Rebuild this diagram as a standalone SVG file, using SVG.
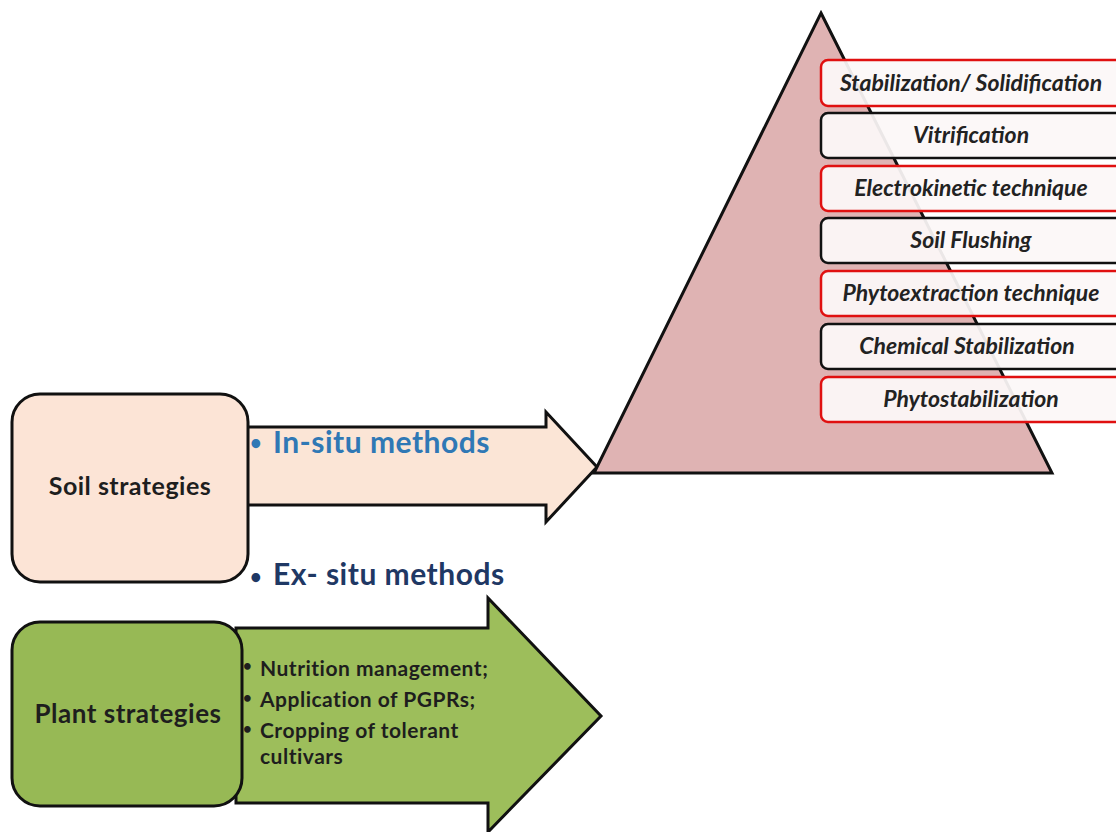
<svg xmlns="http://www.w3.org/2000/svg" width="1116" height="832" viewBox="0 0 1116 832">
<style>
.lbl{font-family:Lato,"Liberation Sans",sans-serif;font-weight:bold;fill:#1e1e1e}
.tech{font-family:Lato,"Liberation Sans",sans-serif;font-weight:bold;font-style:italic;font-size:23px;fill:#222;text-anchor:middle}
.rbox{fill:#fcf8f8;fill-opacity:0.93;stroke:#e01010;stroke-width:2.5}
.kbox{fill:#fcf8f8;fill-opacity:0.93;stroke:#111;stroke-width:2.5}
.edge{stroke:#111;stroke-width:3;stroke-linejoin:miter}
.blt{font-family:Lato,"Liberation Sans",sans-serif;font-weight:bold}
</style>
<rect width="1116" height="832" fill="#ffffff"/>
<g id="connectors">
  <path class="edge" d="M240,427 L546,427 L546,412 L597,467 L546,522 L546,505 L240,505 Z" fill="#fbe5d6"/>
  <path class="edge" d="M236,628 L488,628 L488,598 L601,716 L488,832 L488,803 L236,803 Z" fill="#9dbe5b"/>
</g>
<g id="pyramid">
  <polygon class="edge" points="821,13 1052,473 594,473" fill="#dfb3b3"/>
</g>
<g id="soil">
  <rect x="12" y="394" width="236" height="188" rx="28" fill="#fce4d6" stroke="#111" stroke-width="3"/>
  <text class="lbl" x="130" y="495" font-size="25" letter-spacing="0.5" text-anchor="middle">Soil strategies</text>
</g>
<g id="insitu">
  <text class="blt" x="250" y="450" font-size="20" fill="#2f78b5">•</text>
  <text class="lbl" x="273" y="453" font-size="30" letter-spacing="0.5" style="fill:#2f78b5">In-situ methods</text>
</g>
<g id="exsitu">
  <text class="blt" x="250" y="584" font-size="20" fill="#1f3864">•</text>
  <text class="lbl" x="273" y="585" font-size="30" letter-spacing="0.5" style="fill:#1f3864">Ex- situ methods</text>
</g>
<g id="plant">
  <rect x="12" y="622" width="230" height="184" rx="28" fill="#97b955" stroke="#111" stroke-width="3"/>
  <text class="lbl" x="128" y="723" font-size="26" letter-spacing="0.5" text-anchor="middle">Plant strategies</text>
</g>
<g id="plant-list">
  <text class="blt" x="243" y="671" font-size="15" fill="#1e1e1e">•</text>
  <text class="blt" x="243" y="703" font-size="15" fill="#1e1e1e">•</text>
  <text class="blt" x="243" y="734" font-size="15" fill="#1e1e1e">•</text>
  <text class="lbl" font-size="21" letter-spacing="0.5" x="260" y="676">Nutrition management;</text>
  <text class="lbl" font-size="21" letter-spacing="0.5" x="260" y="707">Application of PGPRs;</text>
  <text class="lbl" font-size="21" letter-spacing="0.5" x="260" y="738">Cropping of tolerant</text>
  <text class="lbl" font-size="21" letter-spacing="0.5" x="260" y="764">cultivars</text>
</g>
<g id="t1"><rect class="rbox" x="821" y="60" width="310" height="46" rx="7"/><text class="tech" x="971" y="91">Stabilization/ Solidification</text></g>
<g id="t2"><rect class="kbox" x="821" y="113" width="310" height="45" rx="7"/><text class="tech" x="971" y="143">Vitrification</text></g>
<g id="t3"><rect class="rbox" x="821" y="166" width="310" height="45" rx="7"/><text class="tech" x="971" y="196">Electrokinetic  technique</text></g>
<g id="t4"><rect class="kbox" x="821" y="218" width="310" height="45" rx="7"/><text class="tech" x="971" y="248">Soil Flushing</text></g>
<g id="t5"><rect class="rbox" x="821" y="271" width="310" height="45" rx="7"/><text class="tech" x="971" y="301">Phytoextraction technique</text></g>
<g id="t6"><rect class="kbox" x="821" y="324" width="310" height="45" rx="7"/><text class="tech" x="967" y="354">Chemical Stabilization</text></g>
<g id="t7"><rect class="rbox" x="821" y="377" width="310" height="45" rx="7"/><text class="tech" x="971" y="407">Phytostabilization</text></g>
</svg>
